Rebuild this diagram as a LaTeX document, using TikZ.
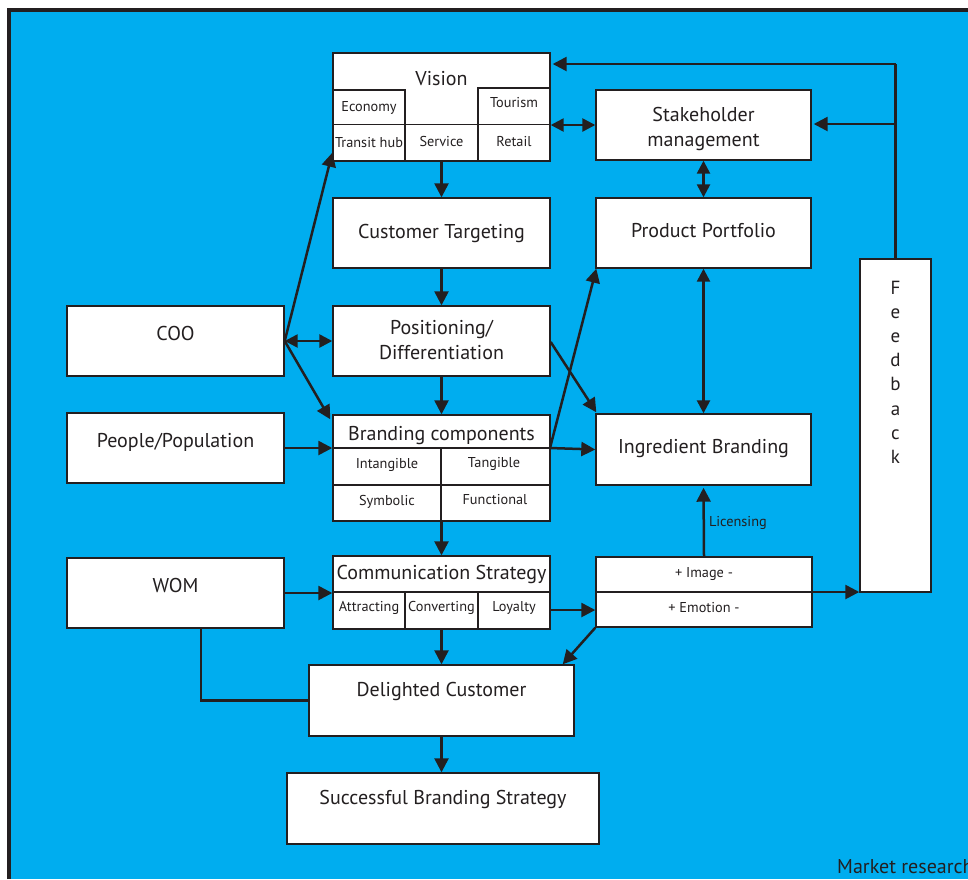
\documentclass[tikz,border=0pt]{standalone}
\usepackage{fontspec}
\setmainfont{PT Sans}
\usetikzlibrary{arrows.meta,calc}
\definecolor{bgblue}{RGB}{0,173,239}
\definecolor{ink}{RGB}{35,31,32}
\begin{document}
\begin{tikzpicture}[x=1pt,y=-1pt,
  box/.style={draw=ink, line width=1.4pt, fill=white, inner sep=0pt},
  cell/.style={draw=ink, line width=1.4pt},
  lbl/.style={text=ink, inner sep=0pt, font=\fontsize{20}{25}\selectfont, text height=14pt, text depth=0pt},
  small/.style={text=ink, inner sep=0pt, font=\fontsize{14.3}{16}\selectfont, text height=10pt, text depth=0pt},
  ln/.style={draw=ink, line width=2.5pt},
  arr/.style={ln, -{Triangle[length=14pt,width=14pt]}},
  darr/.style={ln, {Triangle[length=13pt,width=13pt]}-{Triangle[length=13pt,width=13pt]}}]

\useasboundingbox (0,0) rectangle (968,879);

% background panel with its dark frame on the left and top
\fill[bgblue] (9,10) rectangle (968,879);
\draw[ink, line width=4pt] (9,879) -- (9,10) -- (968,10);

% boxes
\node[box, minimum width=217pt, minimum height=108pt] (vision)  at (441.5,107)   {};
\node[box, minimum width=215pt, minimum height=70pt]  (stake)   at (703.5,125)   {};
\node[box, minimum width=217pt, minimum height=70pt]  (target)  at (441.5,233)   {};
\node[box, minimum width=215pt, minimum height=70pt]  (portf)   at (703.5,233)   {};
\node[box, minimum width=217pt, minimum height=70pt]  (coo)     at (175.5,341)   {};
\node[box, minimum width=217pt, minimum height=70pt]  (posit)   at (441.5,341)   {};
\node[box, minimum width=71pt,  minimum height=333pt] (feed)    at (895.5,425.5) {};
\node[box, minimum width=217pt, minimum height=70pt]  (people)  at (175.5,448)   {};
\node[box, minimum width=217pt, minimum height=106pt] (brand)   at (441.5,468)   {};
\node[box, minimum width=215pt, minimum height=71pt]  (ingr)    at (703.5,449.5) {};
\node[box, minimum width=217pt, minimum height=70pt]  (wom)     at (175.5,593)   {};
\node[box, minimum width=217pt, minimum height=73pt]  (comm)    at (441.5,592.5) {};
\node[box, minimum width=216pt, minimum height=70pt]  (imgemo)  at (704,592)     {};
\node[box, minimum width=265pt, minimum height=71pt]  (delight) at (441.5,700.5) {};
\node[box, minimum width=312pt, minimum height=71pt]  (success) at (443,808.5)   {};

% cells inside the Vision box
\draw[cell] (333,90) -- (405,90) -- (405,161);
\draw[cell] (550,88) -- (478,88) -- (478,161);
\draw[cell] (333,124.5) -- (550,124.5);
% cells inside Branding components
\draw[cell] (333,448) -- (550,448);
\draw[cell] (333,485) -- (550,485);
\draw[cell] (441,448) -- (441,521);
% cells inside Communication Strategy
\draw[cell] (333,592) -- (550,592);
\draw[cell] (405,592) -- (405,629);
\draw[cell] (478,592) -- (478,629);
% split of the Image / Emotion box
\draw[cell] (596,592) -- (812,592);

% labels (two-line labels are placed by their second line)
\node[lbl] (t-vision)  at (441.5,78)  {Vision};
\node[small] (t-econ)  at (369,106)   {Economy};
\node[small] (t-tour)  at (514,102)   {Tourism};
\node[small] (t-trans) at (369,142)   {Transit hub};
\node[small] (t-serv)  at (441.5,141) {Service};
\node[small] (t-ret)   at (514,141)   {Retail};
\node[lbl, align=center] (t-stake) at (703.5,139) {Stakeholder\\management};
\node[lbl] (t-target)  at (441.5,231) {Customer Targeting};
\node[lbl] (t-portf)   at (703.5,230) {Product Portfolio};
\node[lbl] (t-coo)     at (175.5,333) {COO};
\node[lbl, align=center] (t-posit) at (441.5,352) {Positioning/\\Differentiation};
\node[lbl] (t-people)  at (175.5,440) {People/Population};
\node[lbl] (t-brand)   at (441.5,433) {Branding components};
\node[small] (t-intang) at (387,463)  {Intangible};
\node[small] (t-tang)   at (494,462)  {Tangible};
\node[small] (t-symb)   at (387,500)  {Symbolic};
\node[small] (t-func)   at (495,499)  {Functional};
\node[lbl] (t-ingr)    at (703.5,446) {Ingredient Branding};
\node[lbl] (t-wom)     at (175.5,585) {WOM};
\node[lbl] (t-comm)    at (441.5,572) {Communication Strategy};
\node[small] (t-attr)  at (369,606)   {Attracting};
\node[small] (t-conv)  at (441.5,606) {Converting};
\node[small] (t-loy)   at (514,606)   {Loyalty};
\node[small] (t-img)   at (704,572)   {+ Image -};
\node[small] (t-emo)   at (704,607)   {+ Emotion -};
\node[lbl] (t-delight) at (441.5,689) {Delighted Customer};
\node[lbl] (t-success) at (443,797)   {Successful Branding Strategy};
\node[text=ink, inner sep=0pt, font=\fontsize{19}{24.1}\selectfont, align=center, anchor=north]
  (t-feed) at (895.5,281) {F\\e\\e\\d\\b\\a\\c\\k};
\node[text=ink, inner sep=0pt, font=\fontsize{20}{24}\selectfont, anchor=base west]
  (t-market) at (837,873) {Market research};

% connectors
\coordinate (fbtop) at (895.5,64);
\coordinate (fbmid) at (895.5,124);
\draw[ln] (feed.north) -- (fbtop);
\draw[arr, shorten >=2pt] (fbtop) -- (vision.east |- fbtop);
\draw[arr, shorten >=2pt] (fbmid) -- (stake.east |- fbmid);
\draw[darr] (vision.east |- stake.west) -- (stake.west);
\draw[darr] (stake.south) -- (portf.north);

\draw[arr] (vision.south -| t-serv) -- (target.north);
\draw[arr] (target.south) -- (posit.north);
\draw[arr] (posit.south) -- (brand.north);
\draw[arr] (brand.south) -- (comm.north);
\draw[arr] (comm.south) -- (delight.north);
\draw[arr] (delight.south) -- (delight.south |- success.north);

\draw[arr] (coo.east) -- ($(vision.south west)+(0,-9)$);
\draw[darr] (coo.east) -- (posit.west);
\draw[arr] (coo.east) -- ($(brand.north west)+(-2,5)$);
\draw[arr] (people.east) -- (people.east -| brand.west);

\coordinate (brandR) at (550,448);
\draw[arr] (brandR) -- (ingr.west);
\draw[arr] (brandR) -- ($(portf.south west)+(1,0)$);
\draw[arr] ($(posit.east)+(0,1)$) -- ($(ingr.north west)+(1,-1)$);
\draw[darr] (portf.south) -- (ingr.north);
\draw[arr, shorten >=2pt] (imgemo.north) -- (ingr.south)
  node[midway, right=4pt, small] (t-lic) {Licensing};
\draw[arr] (imgemo.east) -- (feed.west |- imgemo.east);
\coordinate (commR) at (550,610);
\draw[arr] (commR) -- (imgemo.west |- commR);
\draw[arr] (imgemo.south west) -- ($(delight.north east)+(-12,0)$);
\draw[arr] (wom.east) -- (wom.east -| comm.west);
\draw[ln] ($(wom.south)+(25.5,0)$) |- (delight.west);
\end{tikzpicture}
\end{document}
